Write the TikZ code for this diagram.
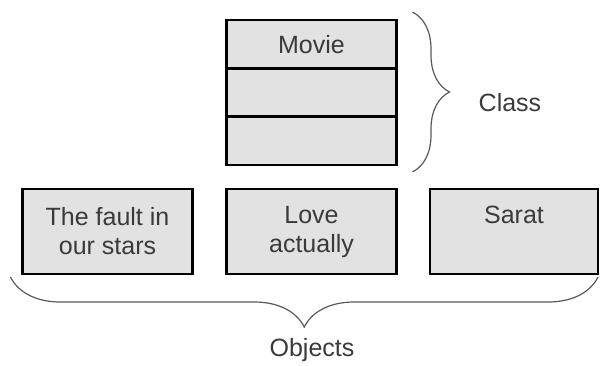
\documentclass[tikz,border=0pt]{standalone}
\usepackage{fontspec}
\setmainfont{Liberation Sans}
\usetikzlibrary{decorations.pathreplacing}
\definecolor{boxgray}{HTML}{E2E2E2}
\definecolor{inkgray}{HTML}{3A3A3A}

\begin{document}
\begin{tikzpicture}[x=1pt,y=-1pt,
    cell/.style={draw=black,line width=2.8pt,fill=boxgray,minimum width=170pt,minimum height=48.3pt,
      inner sep=0pt,outer sep=0pt,text=inkgray,font=\fontsize{25}{29}\selectfont,align=center},
    obj/.style={cell,minimum height=85pt},
    curly/.style={decorate,decoration={brace,amplitude=#1},draw=inkgray!85,line width=1.2pt},
    tag/.style={text=inkgray,font=\fontsize{25}{29}\selectfont}]
    \useasboundingbox (0,0) rectangle (600,365);
    % the class
    \node[cell] (movie) at (311.5,44.2){Movie};
    \node[cell] (attr) at (311.5,92.5){};
    \node[cell] (meth) at (311.5,140.8){};
    % the objects
    \node[obj] (fault) at (107.5,231.5){The fault in\\our stars};
    \node[obj] (love) at (311.5,231.5){Love\\actually};
    \node[obj,minimum width=168pt] (sarat) at (514,231.5){Sarat\\\phantom{y}};
    % braces and their labels
    \draw[curly=37pt] ([xshift=16pt,yshift=8pt]movie.north east) -- ([xshift=16pt,yshift=-7pt]meth.south east);
    \node[tag] (class) at (510,103){Class};
    \draw[curly=50pt] ([xshift=0pt,yshift=-3pt]sarat.south east) -- ([xshift=-12pt,yshift=-3pt]fault.south west);
    \node[tag] (objects) at (312,350){Objects};
\end{tikzpicture}
\end{document}
